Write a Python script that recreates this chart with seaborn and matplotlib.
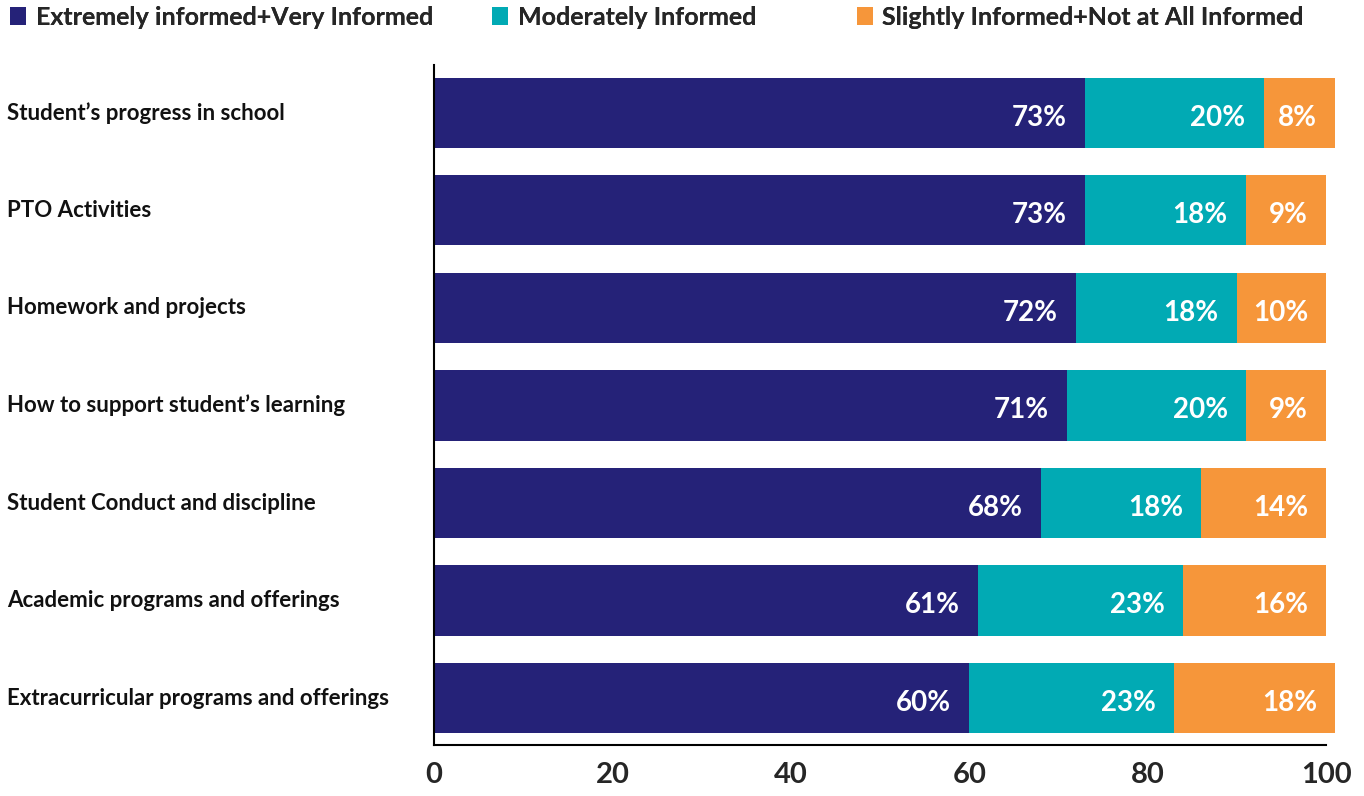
import numpy as np
import pandas as pd
import matplotlib
matplotlib.use("Agg")
import matplotlib.pyplot as plt
from matplotlib.patches import Patch
from matplotlib.transforms import offset_copy, blended_transform_factory
import seaborn as sns

categories = [
    "Student\u2019s progress in school",
    "PTO Activities",
    "Homework and projects",
    "How to support student\u2019s learning",
    "Student Conduct and discipline",
    "Academic programs and offerings",
    "Extracurricular programs and offerings",
]
very_informed = [73, 73, 72, 71, 68, 61, 60]
moderately_informed = [20, 18, 18, 20, 18, 23, 23]
slightly_informed = [8, 9, 10, 9, 14, 16, 18]

series_names = [
    "Extremely informed+Very Informed",
    "Moderately Informed",
    "Slightly Informed+Not at All Informed",
]
colors = ["#252278", "#01aab4", "#f6963a"]
x_ticks = [0, 20, 40, 60, 80, 100]

sns.set_theme(style="white")
plt.rcParams["font.family"] = ["Lato", "DejaVu Sans"]

df = pd.DataFrame({
    "category": categories,
    "a": very_informed,
    "b": moderately_informed,
    "c": slightly_informed,
})
df["ab"] = df["a"] + df["b"]
df["abc"] = df["ab"] + df["c"]

fig = plt.figure(figsize=(13.64, 7.96), dpi=100)
ax = fig.add_axes([434 / 1364, 51 / 796, 892 / 1364, 680 / 796])

# stacked bars: draw cumulative totals back to front
for col, color in zip(["abc", "ab", "a"], colors[::-1]):
    sns.barplot(data=df, x=col, y="category", order=categories, color=color,
                width=0.72, orient="h", ax=ax, saturation=1, linewidth=0)
for p in ax.patches:
    p.set_clip_on(False)

# value labels, right-aligned inside each segment
ends = [df["a"], df["ab"], df["abc"]]
vals = [very_informed, moderately_informed, slightly_informed]
trans = offset_copy(ax.transData, fig=fig, x=-18, y=0, units="dots")
for end, v in zip(ends, vals):
    for i, (e, val) in enumerate(zip(end, v)):
        ax.text(e, i + 0.05, f"{val}%", transform=trans, ha="right", va="center",
                color="white", fontsize=20, fontweight="bold")

ax.set_xlim(0, 100)
ax.set_ylim(6.48, -0.49)
ax.set_xticks(x_ticks)
ax.set_xticklabels([str(t) for t in x_ticks], fontsize=21, fontweight="bold")
ax.tick_params(axis="x", direction="in", length=12, width=1.5, color="black", pad=12)
ax.set_yticks([])
ax.set_xlabel("")
ax.set_ylabel("")
for side in ["top", "right"]:
    ax.spines[side].set_visible(False)
for side in ["left", "bottom"]:
    ax.spines[side].set_color("black")
    ax.spines[side].set_linewidth(1.5)

# category labels at the left edge of the figure
lab_trans = blended_transform_factory(fig.transFigure, ax.transData)
for i, cat in enumerate(categories):
    ax.text(7 / 1364, i, cat, transform=lab_trans,
            ha="left", va="center", fontsize=16, fontweight="bold", color="#111111")

# legend entries laid out in fixed-width columns across the top
legend_x = [10, 492, 857]
for name, color, lx in zip(series_names, colors, legend_x):
    leg = fig.legend([Patch(facecolor=color, edgecolor="none")], [name],
                     loc="upper left", bbox_to_anchor=(lx / 1364, 1 - 6 / 796),
                     frameon=False, handlelength=0.62, handleheight=0.72,
                     handletextpad=0.4, borderaxespad=0, borderpad=0,
                     prop={"family": ["Lato", "DejaVu Sans"], "weight": "bold", "size": 18})
    fig.add_artist(leg)

fig.savefig("out.png", dpi=100)
